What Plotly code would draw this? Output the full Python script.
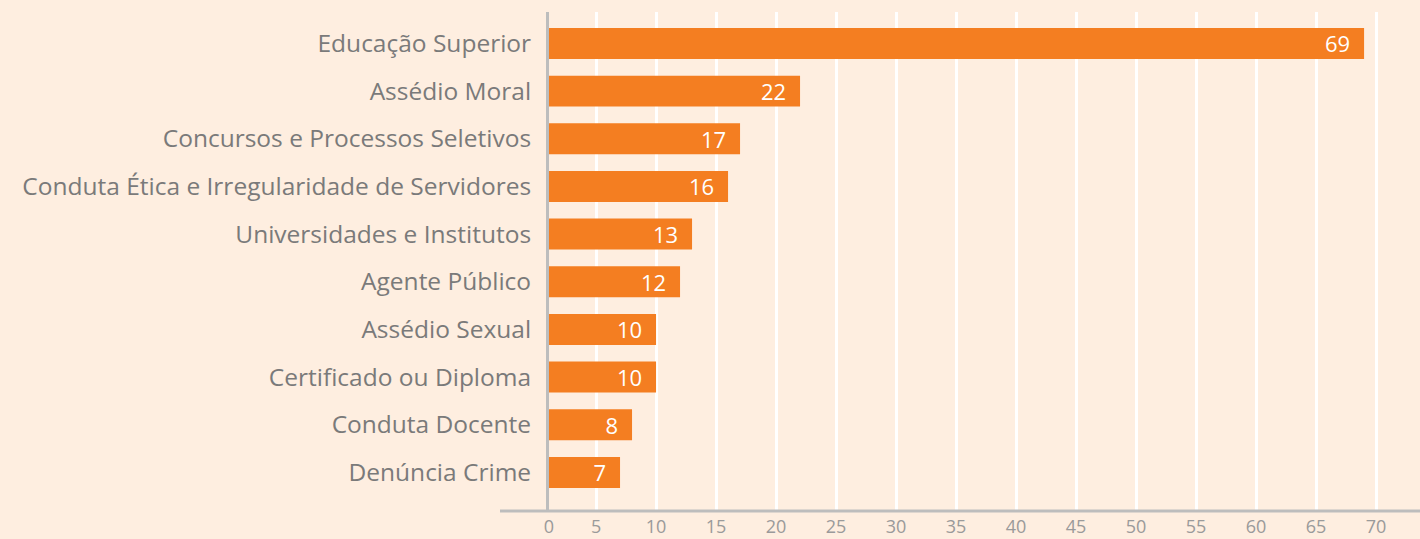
import plotly.graph_objects as go

categories = [
    "Educação Superior",
    "Assédio Moral",
    "Concursos e Processos Seletivos",
    "Conduta Ética e Irregularidade de Servidores",
    "Universidades e Institutos",
    "Agente Público",
    "Assédio Sexual",
    "Certificado ou Diploma",
    "Conduta Docente",
    "Denúncia Crime",
]
values = [69, 22, 17, 16, 13, 12, 10, 10, 8, 7]
tick_values = [5, 10, 15, 20, 25, 30, 35, 40, 45, 50, 55, 60, 65, 70]
tick_labels = ["5", "10", "15", "20", "25", "30", "35", "40", "45", "50", "55", "60", "65", "70"]

BG = "#FEEEE0"
BAR = "#F47E21"
GRID_AXIS = "#BDBDBD"
FONT = "Open Sans"

x_start = 1.08
x_end = 73.66

fig = go.Figure(
    go.Bar(
        x=values,
        y=categories,
        orientation="h",
        marker=dict(color=BAR, line=dict(width=0)),
        width=0.65,
        text=values,
        texttemplate="%{x}\u2002",
        textposition="inside",
        insidetextanchor="end",
        textangle=0,
        constraintext="none",
        textfont=dict(color="white", size=22, family=FONT),
        cliponaxis=True,
        hoverinfo="skip",
    )
)

fig.update_layout(
    width=1420,
    height=539,
    margin=dict(l=549, r=0, t=12, b=28),
    paper_bgcolor=BG,
    plot_bgcolor=BG,
    showlegend=False,
    font=dict(family=FONT, color="#7A7A7A"),
    xaxis=dict(
        range=[x_start, x_end],
        tickvals=[x_start] + tick_values,
        ticktext=["0"] + tick_labels,
        showgrid=True,
        gridcolor="white",
        gridwidth=3,
        zeroline=False,
        showline=False,
        ticks="",
        tickfont=dict(size=18, color="#9A9A9A", family=FONT),
        ticklabelstandoff=3,
    ),
    yaxis=dict(
        type="category",
        categoryorder="array",
        categoryarray=categories,
        range=[9.81, -0.66],
        showgrid=False,
        zeroline=False,
        showline=True,
        linecolor=GRID_AXIS,
        linewidth=3,
        ticks="",
        tickfont=dict(size=24.5, color="#7A7A7A", family=FONT),
        ticklabelstandoff=10,
    ),
    shapes=[
        dict(
            type="line",
            xref="paper",
            yref="paper",
            x0=-49 / 871,
            x1=1,
            y0=0,
            y1=0,
            line=dict(color=GRID_AXIS, width=3),
            layer="above",
        )
    ],
)

fig.write_html(
    "out.html",
    config={"displayModeBar": False},
    post_script="document.body.style.margin='0';document.body.style.background='" + BG + "';",
)
